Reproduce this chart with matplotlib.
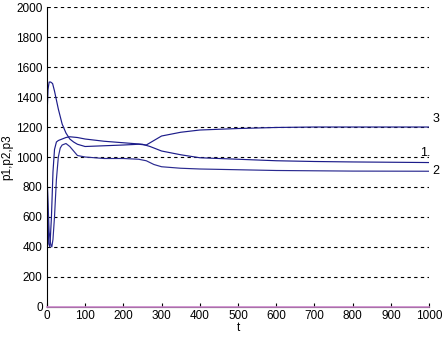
import matplotlib
matplotlib.use("Agg")
import matplotlib.pyplot as plt

plt.rcParams['font.family'] = ['Liberation Sans', 'DejaVu Sans']

t1 = [0, 2, 5, 8, 12, 16, 20, 25, 30, 40, 50, 60, 80, 100, 150, 200, 250, 270, 300, 350, 400, 500, 600, 700, 800, 900, 1000]
p1 = [1100, 700, 420, 400, 600, 900, 1050, 1100, 1110, 1120, 1130, 1135, 1130, 1120, 1105, 1095, 1085, 1070, 1040, 1015, 995, 985, 975, 970, 967, 965, 963]

t2 = [0, 3, 6, 10, 13, 16, 20, 25, 30, 35, 40, 50, 60, 70, 80, 100, 150, 200, 240, 260, 280, 300, 350, 400, 500, 600, 700, 800, 1000]
p2 = [900, 700, 500, 420, 400, 450, 600, 850, 1000, 1060, 1080, 1090, 1070, 1040, 1010, 1000, 990, 990, 985, 975, 950, 935, 925, 920, 915, 910, 908, 906, 905]

t3 = [0, 3, 6, 10, 15, 20, 25, 30, 40, 50, 60, 70, 80, 100, 150, 200, 240, 260, 280, 300, 350, 400, 450, 500, 600, 700, 800, 900, 1000]
p3 = [1250, 1450, 1500, 1500, 1490, 1440, 1380, 1320, 1220, 1160, 1120, 1100, 1085, 1070, 1075, 1080, 1085, 1080, 1110, 1140, 1165, 1180, 1185, 1190, 1197, 1200, 1200, 1200, 1200]

t0 = [0, 1000]
p0 = [0, 0]

end_labels = ["1.", "2", "3"]
label_pos = [(975, 1030), (1008, 905), (1008, 1255)]

xticks = list(range(0, 1001, 100))
yticks = list(range(0, 2001, 200))

fig = plt.figure(figsize=(4.42, 3.38), dpi=100)
ax = fig.add_axes([0.106, 0.092, 0.865, 0.887])

for y in yticks[1:]:
    ax.axhline(y, color='black', lw=0.8, ls=(0, (3, 3)), zorder=1)

ax.plot(t0, p0, color='#cc88cc', lw=1.2, zorder=3, clip_on=False)
ax.plot(t1, p1, color='#1c1c8a', lw=0.85, zorder=2)
ax.plot(t2, p2, color='#2a2a90', lw=0.85, zorder=2)
ax.plot(t3, p3, color='#1c1c8a', lw=0.85, zorder=2)

for lab, (x, y) in zip(end_labels, label_pos):
    ax.text(x, y, lab, fontsize=9, ha='left', va='center', clip_on=False)

ax.set_xlim(0, 1000)
ax.set_ylim(0, 2000)
ax.set_xticks(xticks)
ax.set_yticks(yticks)
ax.tick_params(axis='x', direction='in', length=3, labelsize=8.5, pad=2)
ax.tick_params(axis='y', direction='in', length=0, labelsize=8.5, pad=3)
ax.spines['top'].set_visible(False)
ax.spines['right'].set_visible(False)
ax.set_xlabel('t', fontsize=8.5, labelpad=0)
ax.set_ylabel('p1,p2,p3', fontsize=8.5, labelpad=2)

fig.savefig('out.png', dpi=100)
